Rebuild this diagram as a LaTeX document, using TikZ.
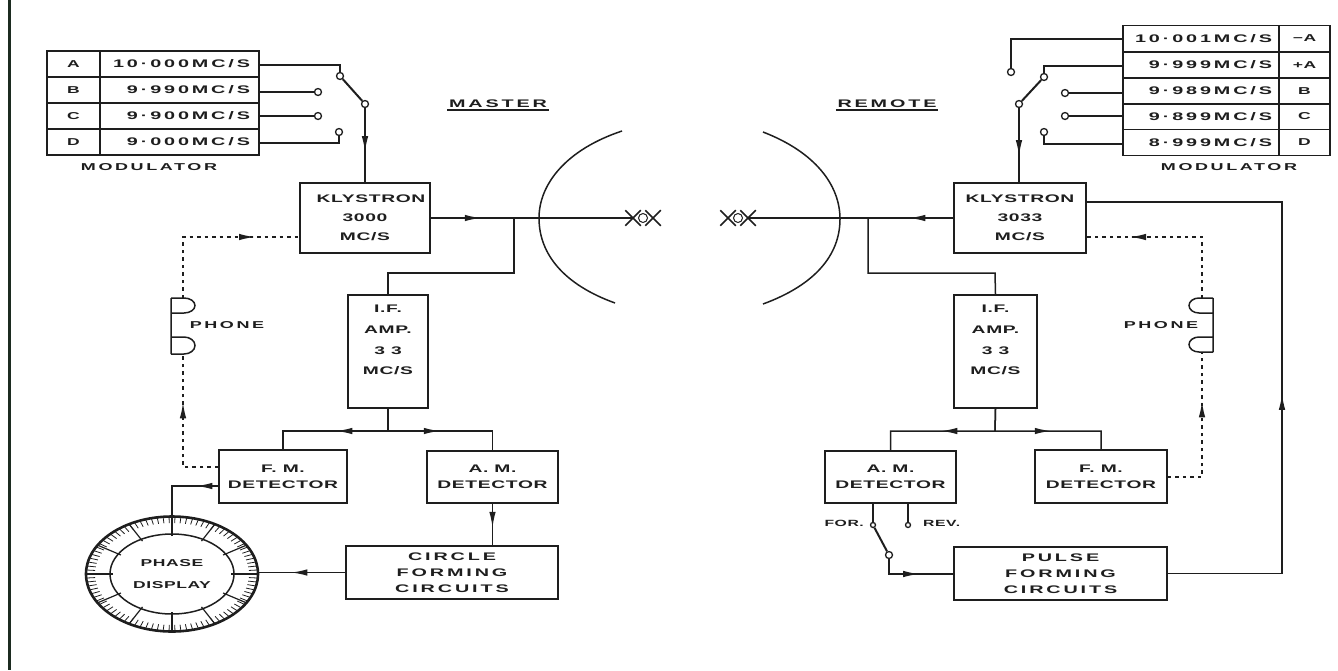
\documentclass[tikz,border=0pt]{standalone}
\usepackage{fontspec}
\newfontfamily\boxfont[FakeStretch=1.75,LetterSpace=6]{Liberation Sans}
\newfontfamily\widefont[FakeStretch=1.8,LetterSpace=26]{Liberation Sans}
\usetikzlibrary{arrows.meta,shapes.geometric,shapes.misc,decorations.markings}
\definecolor{edgegreen}{HTML}{1C2B20}
\definecolor{inkgrey}{HTML}{1E1E1E}

\begin{document}
\begin{tikzpicture}[x=1pt, y=-1pt, inkgrey,
  box/.style={draw, line width=1.5pt, align=center, inner sep=0pt,
              font=\boxfont\fontsize{11}{16}\selectfont\bfseries},
  widebox/.style={box, font=\widefont\fontsize{11}{16}\selectfont\bfseries},
  cell/.style={draw, line width=1.5pt, inner sep=0pt, align=center,
               minimum height=26pt,
               font=\boxfont\fontsize{10}{10}\selectfont\bfseries},
  freqcell/.style={cell, align=right,
               font=\widefont\fontsize{11}{10}\selectfont\bfseries},
  word/.style={inner sep=0pt, align=center,
               font=\widefont\fontsize{10}{10}\selectfont\bfseries},
  smallword/.style={inner sep=0pt,
               font=\boxfont\fontsize{9}{10}\selectfont\bfseries},
  title/.style={inner sep=1.5pt, font=\widefont\fontsize{11}{10}\selectfont\bfseries},
  term/.style={circle, draw, line width=1.3pt, fill=white, inner sep=0pt,
               minimum size=7pt},
  wire/.style={line width=1.5pt},
  feed/.style={line width=2.6pt},
  phone/.style={line width=1.6pt, dash pattern=on 3.5pt off 4pt},
  tipat/.style={postaction={decorate},
                decoration={markings, mark=at position #1 with
                  {\arrow[solid]{Latex[length=16pt,width=6.5pt]}}}},
  xmark/.style={cross out, draw, line width=1.5pt, inner sep=0pt,
                minimum width=14pt, minimum height=14pt},
  hole/.style={circle, draw, line width=1pt, inner sep=0pt, minimum size=9pt},
]
\useasboundingbox (0,0) rectangle (1338,670);
\fill[edgegreen] (8,0) rectangle (11,670);

% Modulator tables.
\foreach \name/\yy/\ltr/\freq in {a/64/A/10·000, b/90/B/9·990,
    c/116/C/9·900, d/142/D/9·000} {
  \node[cell, minimum width=53pt] (l\name) at (73.5,\yy) {\ltr};
  \node[freqcell, minimum width=159pt, text width=141pt] (m\name) at (179.5,\yy) {\freq MC/S};
}
\node[word] (modl) at (149,167) {MODULATOR};
\foreach \name/\yy/\freq/\ltr in {n/38.5/10·001/−A, a/65/9·999/+A,
    b/91/9·989/B, c/116.5/9·899/C, d/142.5/8·999/D} {
  \node[freqcell, minimum width=156pt, text width=142pt] (r\name) at (1201,\yy) {\freq MC/S};
  \node[cell, minimum width=51pt] (s\name) at (1304.5,\yy) {\ltr};
}
\node[word] (modr) at (1229,167) {MODULATOR};

% Titles.
\node[title] (master) at (498,104) {MASTER};
\node[title] (remote) at (887,104) {REMOTE};
\draw[line width=2pt] (master.south west) -- (master.south east);
\draw[line width=2pt] (remote.south west) -- (remote.south east);

% Master side.
\node[box, minimum width=130pt, minimum height=70pt] (klyl) at (365,218)
  {\hspace*{12pt}KLYSTRON\\[3pt]3000\\[3pt]MC/S};
\node[box, minimum width=80pt, minimum height=113pt] (ifl) at (388,351.5)
  {I.F.\\[5pt]AMP.\\[5pt]3 3\\[4pt]MC/S\\[7pt]~};
\node[box, minimum width=128pt, minimum height=53pt] (fml) at (283,476.5)
  {F. M.\\DETECTOR};
\node[box, minimum width=131pt, minimum height=52pt] (aml) at (492.5,477)
  {A. M.\\DETECTOR};
\node[widebox, minimum width=212pt, minimum height=53pt] (cfc) at (452,572.5)
  {CIRCLE\\FORMING\\CIRCUITS};
\node[ellipse, draw, line width=2.6pt, minimum width=172pt, minimum height=115pt,
      inner sep=0pt] (phase) at (172,574) {};
\node[ellipse, draw, line width=1.5pt, align=center, minimum width=124pt,
      minimum height=80pt, inner sep=0pt,
      font=\boxfont\fontsize{10}{22}\selectfont\bfseries] (phasein) at (172,574)
  {PHASE\\DISPLAY};
\foreach \a in {0,30,...,330}
  \draw[line width=1.2pt] ({172+59*cos(\a)},{574+38*sin(\a)})
    -- ({172+85*cos(\a)},{574+57*sin(\a)});
\foreach \a in {0,4,...,356}
  \draw[line width=.8pt] ({172+77*cos(\a)},{574+51*sin(\a)})
    -- ({172+85*cos(\a)},{574+57*sin(\a)});

% Remote side.
\node[box, minimum width=132pt, minimum height=70pt] (klyr) at (1020,218)
  {KLYSTRON\\[3pt]3033\\[3pt]MC/S};
\node[box, minimum width=83pt, minimum height=113pt] (ifr) at (995.5,351.5)
  {I.F.\\[5pt]AMP.\\[5pt]3 3\\[4pt]MC/S\\[7pt]~};
\node[box, minimum width=131pt, minimum height=52pt] (amr) at (890.5,477)
  {A. M.\\DETECTOR};
\node[box, minimum width=132pt, minimum height=53pt] (fmr) at (1101,476.5)
  {F. M.\\DETECTOR};
\node[widebox, minimum width=213pt, minimum height=53pt] (pfc) at (1060.5,573.5)
  {PULSE\\FORMING\\CIRCUITS};

% Master switch.
\node[term] (swa) at (340,76) {};
\node[term] (swb) at (318,92) {};
\node[term] (swc) at (318,116) {};
\node[term] (swd) at (339,132) {};
\node[term] (swp) at (365,104) {};
\draw[wire] (ma.east |- 0,65) -| (swa);
\draw[wire] (mb.east |- swb) -- (swb);
\draw[wire] (mc.east |- swc) -- (swc);
\draw[wire] (md.east |- 0,143) -| (swd);
\draw[line width=2pt] (swa) -- (swp);
\draw[wire, tipat=44pt] (swp) -- (swp |- klyl.north);

% Remote switch.
\node[term] (tsn) at (1011,72) {};
\node[term] (tsa) at (1044,77) {};
\node[term] (tsb) at (1065,93) {};
\node[term] (tsc) at (1065,116) {};
\node[term] (tsd) at (1044,132) {};
\node[term] (tsp) at (1019,104) {};
\draw[wire] (rn.west |- 0,39) -| (tsn);
\draw[wire] (ra.west |- 0,66) -| (tsa);
\draw[wire] (rb.west |- tsb) -- (tsb);
\draw[wire] (rc.west |- tsc) -- (tsc);
\draw[wire] (rd.west |- 0,144) -| (tsd);
\draw[line width=2pt] (tsa) -- (tsp);
\draw[wire, tipat=48pt] (tsp) -- (tsp |- klyr.north);

% Dishes and feeds.
\draw[line width=1.5pt] (622,131) .. controls (565,150) and (539,185) .. (539,218)
  .. controls (539,255) and (565,285) .. (615,303);
\draw[line width=1.5pt] (763,132) .. controls (815,152) and (840,185) .. (840,219)
  .. controls (840,255) and (815,285) .. (763,304);
\coordinate (junl) at (514,218);
\coordinate (junr) at (868,218);
\node[xmark] (xl1) at (633,218) {};
\node[xmark] (xl2) at (653,218) {};
\node[hole] (xlm) at (643,218) {};
\node[xmark] (xr1) at (728,218) {};
\node[xmark] (xr2) at (748,218) {};
\node[hole] (xrm) at (738,218) {};
\draw[wire, tipat=50pt] (klyl.east) -- (junl);
\draw[feed] (junl) -- (xl1.center);
\draw[wire, tipat=44pt] (klyr.west) -- (junr);
\draw[feed] (junr) -- (xr2.center);
\draw[wire] (junl) |- (388,273) -- (ifl.north);
\draw[wire] (junr) |- (995,273) -- (ifr.north);

% Detector feeds.
\draw[wire, tipat=74pt] (ifl.south) -- (388,431) -| (fml.north);
\draw[wire, tipat=74pt] (ifl.south) -- (388,431) -| (aml.north);
\draw[wire, tipat=76pt] (ifr.south) -- (995,431) -| (amr.north);
\draw[wire, tipat=78pt] (ifr.south) -- (995,431) -| (fmr.north);
\draw[wire, tipat=24pt] (aml.south) -- (cfc.north -| aml.south);
\draw[wire, tipat=54pt] (cfc.west) -- (phase.east |- cfc.west);
\draw[wire, tipat=22pt] (fml.west |- 0,486) -| (phase.north);

% Telephone loops.
\draw[phone, tipat=133pt] (183,298) |- (klyl.west |- 0,237);
\draw[phone, tipat=100pt] (fml.west |- 0,467) -| (183,354);
\draw[line width=1.5pt] (171,298) -- (171,354)
  (171,298) -- (184,298) arc[start angle=-90, end angle=90, x radius=11pt, y radius=-7.5pt] -- (171,313)
  (171,337) -- (184,337) arc[start angle=-90, end angle=90, x radius=11pt, y radius=-8.5pt] -- (171,354);
\node[word] (phonel) at (227,325) {PHONE};
\draw[phone, tipat=133pt] (1202,298) |- (klyr.east |- 0,237);
\draw[phone, tipat=110pt] (fmr.east |- 0,477) -| (1202,352);
\draw[line width=1.5pt] (1213,298) -- (1213,352)
  (1213,298) -- (1199,298) arc[start angle=-90, end angle=-270, x radius=10pt, y radius=-7.5pt] -- (1213,313)
  (1213,337) -- (1199,337) arc[start angle=-90, end angle=-270, x radius=10pt, y radius=-7.5pt] -- (1213,352);
\node[word] (phoner) at (1161,325) {PHONE};

% Pulse path.
\node[term, minimum size=5pt] (forc) at (873,525) {};
\node[term, minimum size=5pt] (revc) at (908,525) {};
\node[term] (sumc) at (889,555) {};
\draw[wire] (forc |- amr.south) -- (forc);
\draw[wire] (revc |- amr.south) -- (revc);
\draw[line width=2pt] (forc) -- (sumc);
\draw[wire, tipat=45pt] (sumc) |- (pfc.west |- 0,574);
\node[smallword, anchor=east] (forl) at (864,523) {FOR.};
\node[smallword, anchor=west] (revl) at (923,523) {REV.};
\draw[wire, tipat=294pt] (pfc.east) -| (1282,202) -- (klyr.east |- 0,202);
\end{tikzpicture}
\end{document}
